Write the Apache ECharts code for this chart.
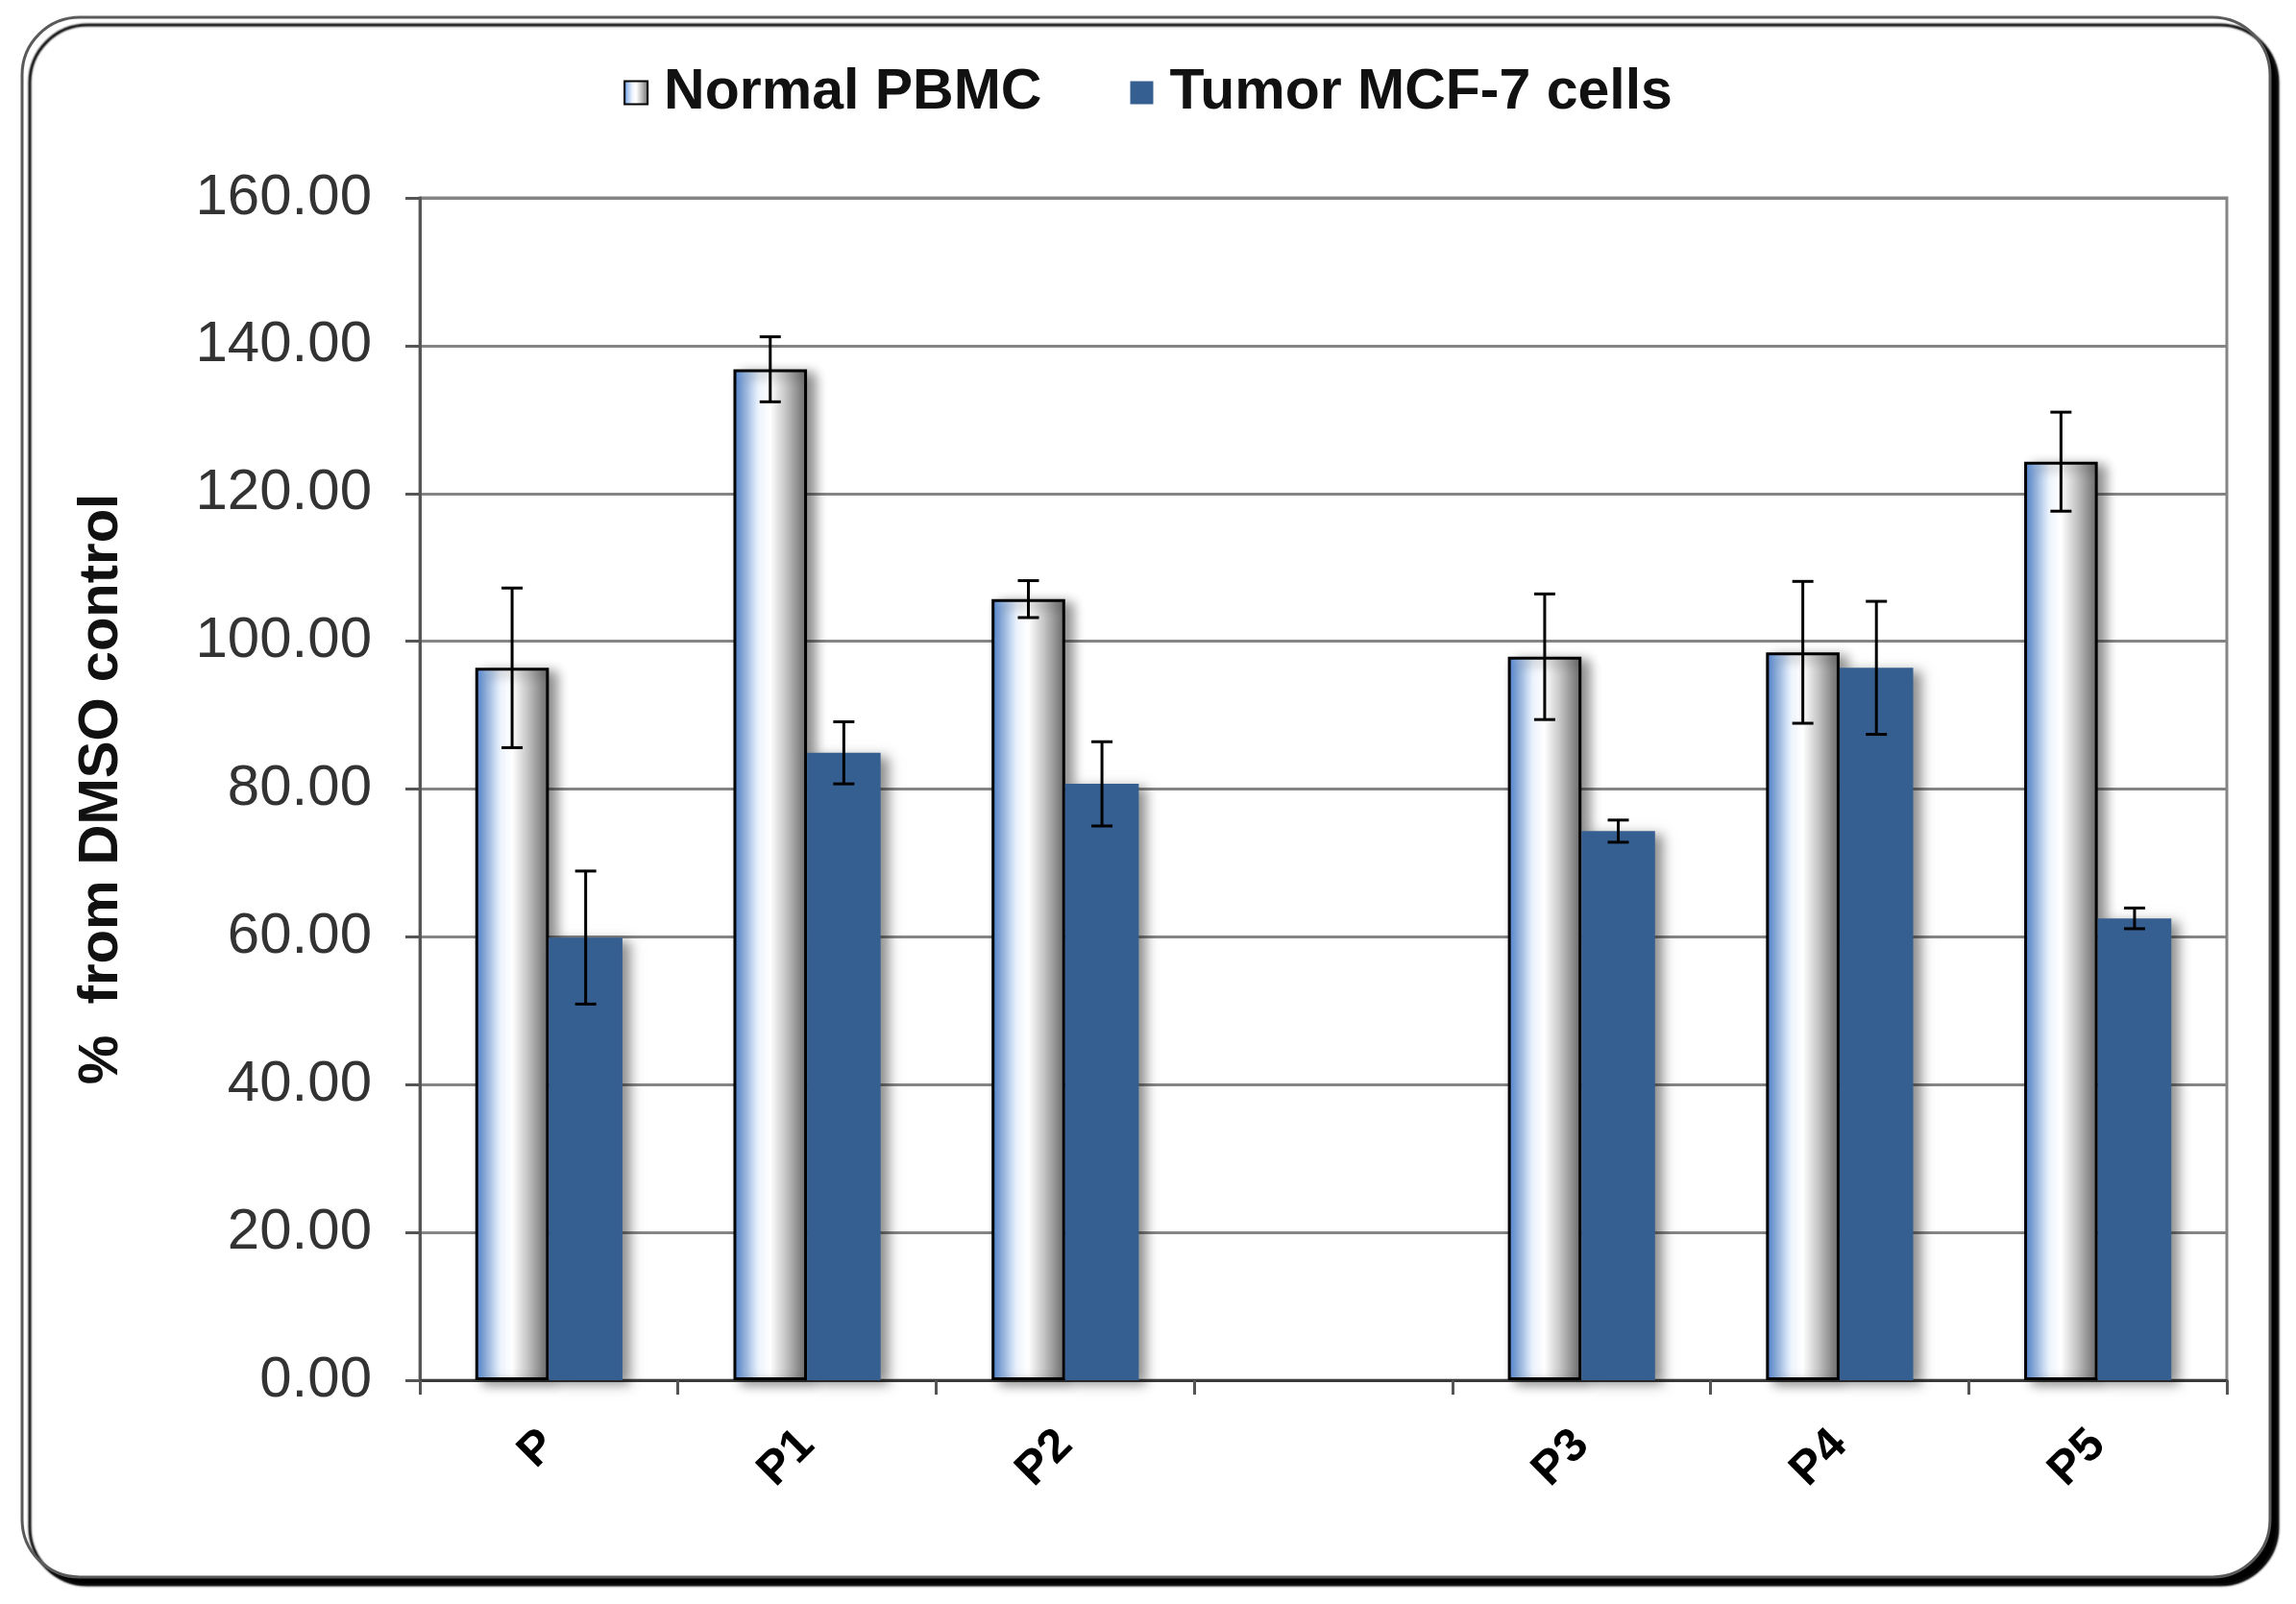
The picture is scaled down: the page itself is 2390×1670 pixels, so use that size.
<!DOCTYPE html>
<html>
<head>
<meta charset="utf-8">
<script src="https://cdn.jsdelivr.net/npm/echarts@6/dist/echarts.min.js"></script>
<style>
  html, body { margin: 0; padding: 0; background: #fff; }
  #chart { width: 2390px; height: 1670px; }
</style>
</head>
<body>
<div id="chart"></div>
<script>
// categories (the empty one is the blank slot between P2 and P3)
var categories = ['P', 'P1', 'P2', '', 'P3', 'P4', 'P5'];
var normalPBMC = [96.4, 136.8, 105.7, null, 97.9, 98.5, 124.3];
var normalErr = [10.8, 4.4, 2.5, null, 8.5, 9.6, 6.7];
var tumorMCF7 = [59.9, 84.9, 80.7, null, 74.3, 96.4, 62.5];
var tumorErr = [9.0, 4.2, 5.7, null, 1.5, 9.0, 1.4];
var yTicks = [0, 20, 40, 60, 80, 100, 120, 140, 160];

var chart = echarts.init(document.getElementById('chart'));

// error bar rows: [category index, low, high]
function errRows(vals, errs) {
    var rows = [];
    for (var i = 0; i < vals.length; i++) {
        if (vals[i] == null) continue;
        rows.push([i, vals[i] - errs[i], vals[i] + errs[i]]);
    }
    return rows;
}

// draws the whisker, side = -1 left bar, +1 right bar
function errRender(side) {
    return function (params, api) {
        var idx = api.value(0);
        var lo = api.coord([idx, api.value(1)]);
        var hi = api.coord([idx, api.value(2)]);
        var catW = api.size([1, 0])[0];
        var x = lo[0] + side * catW * 0.1425;
        var cap = 11;
        var st = { stroke: '#000', lineWidth: 3 };
        return {
            type: 'group',
            children: [
                { type: 'line', shape: { x1: x, y1: hi[1], x2: x, y2: lo[1] }, style: st },
                { type: 'line', shape: { x1: x - cap, y1: hi[1], x2: x + cap, y2: hi[1] }, style: st },
                { type: 'line', shape: { x1: x - cap, y1: lo[1], x2: x + cap, y2: lo[1] }, style: st }
            ]
        };
    };
}

var normalFill = new echarts.graphic.LinearGradient(0, 0, 1, 0, [
    { offset: 0, color: '#4a82d6' },
    { offset: 0.15, color: '#9fc0ee' },
    { offset: 0.35, color: '#eef4fc' },
    { offset: 0.5, color: '#ffffff' },
    { offset: 0.7, color: '#c8c8c8' },
    { offset: 0.9, color: '#878787' },
    { offset: 1, color: '#6e6e6e' }
]);

chart.setOption({
    backgroundColor: '#fff',
    animation: false,
    graphic: [{
        type: 'rect',
        z: -10,
        shape: { x: 23, y: 18, width: 2340, height: 1624, r: 60 },
        style: {
            fill: '#fff', stroke: '#5a5a5a', lineWidth: 3,
            shadowColor: '#000', shadowBlur: 2, shadowOffsetX: 8, shadowOffsetY: 8
        }
    }],
    legend: {
        top: 62,
        left: 'center',
        icon: 'rect',
        itemWidth: 24,
        itemHeight: 24,
        itemGap: 92,
        data: ['Normal PBMC', 'Tumor MCF-7 cells'],
        itemStyle: { shadowBlur: 0, shadowOffsetX: 0, shadowOffsetY: 0 },
        textStyle: {
            fontFamily: 'Liberation Sans, Arial, sans-serif',
            fontWeight: 'bold', fontSize: 59, color: '#111',
            padding: [0, 0, 0, 12]
        }
    },
    grid: {
        left: 437, right: 72, top: 206, bottom: 233,
        show: true, borderColor: '#858585', borderWidth: 3, backgroundColor: '#fff'
    },
    xAxis: {
        type: 'category',
        data: categories,
        axisLine: { lineStyle: { color: '#3a3a3a', width: 3 } },
        axisTick: { show: true, length: 15, lineStyle: { color: '#555', width: 3 } },
        axisLabel: {
            rotate: 45, margin: 60, interval: 0,
            fontFamily: 'Liberation Sans, Arial, sans-serif',
            fontWeight: 'bold', fontSize: 49, color: '#000'
        }
    },
    yAxis: {
        type: 'value',
        min: yTicks[0],
        max: yTicks[yTicks.length - 1],
        interval: 20,
        name: '%  from DMSO control',
        nameLocation: 'middle',
        nameGap: 302,
        nameTextStyle: {
            fontFamily: 'Liberation Sans, Arial, sans-serif',
            fontWeight: 'bold', fontSize: 58, color: '#111'
        },
        axisLine: { show: true, lineStyle: { color: '#555', width: 3 } },
        axisTick: { show: true, length: 15, lineStyle: { color: '#555', width: 3 } },
        splitLine: { lineStyle: { color: '#858585', width: 3 } },
        axisLabel: {
            margin: 50,
            fontFamily: 'Liberation Sans, Arial, sans-serif',
            fontSize: 60, color: '#333',
            formatter: function (v) { return v.toFixed(2); }
        }
    },
    series: [
        {
            name: 'Normal PBMC',
            type: 'bar',
            data: normalPBMC,
            barGap: '0%',
            barCategoryGap: '43%',
            itemStyle: {
                color: normalFill, borderColor: '#000', borderWidth: 3,
                shadowColor: 'rgba(0,0,0,0.45)', shadowBlur: 12, shadowOffsetX: 8, shadowOffsetY: 4
            }
        },
        {
            name: 'Tumor MCF-7 cells',
            type: 'bar',
            data: tumorMCF7,
            itemStyle: {
                color: '#365f91',
                shadowColor: 'rgba(0,0,0,0.45)', shadowBlur: 12, shadowOffsetX: 8, shadowOffsetY: 4
            }
        },
        {
            type: 'custom',
            renderItem: errRender(-1),
            data: errRows(normalPBMC, normalErr),
            z: 10,
            silent: true
        },
        {
            type: 'custom',
            renderItem: errRender(1),
            data: errRows(tumorMCF7, tumorErr),
            z: 10,
            silent: true
        }
    ]
});
</script>
</body>
</html>
